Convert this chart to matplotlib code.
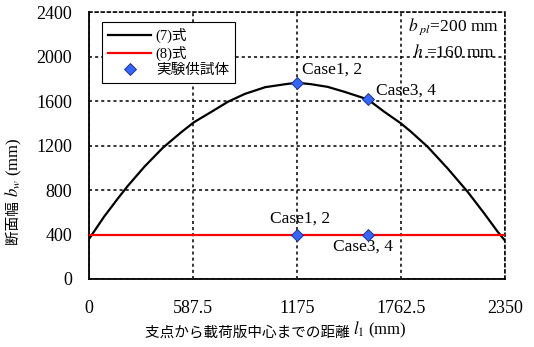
import matplotlib
matplotlib.use("Agg")
import matplotlib.pyplot as plt

plt.rcParams["font.family"] = ["Liberation Serif", "Noto Sans CJK JP", "DejaVu Sans"]
plt.rcParams["mathtext.fontset"] = "stix"

# (7)式 curve
eq7_x = [0, 85, 161, 218, 313, 417, 521, 593, 692, 786, 881, 995, 1109, 1175,
         1254, 1348, 1442, 1575, 1668, 1762.5, 1819, 1913, 2026, 2139, 2233, 2309, 2350]
eq7_y = [360, 560, 720, 835, 1010, 1180, 1320, 1410, 1504, 1595, 1665, 1725, 1752, 1765,
         1752, 1728, 1684, 1615, 1504, 1399, 1324, 1189, 994, 784, 589, 424, 345]

# (8)式 constant line
eq8_x = [0, 2350]
eq8_y = [400, 400]

# 実験供試体
spec_x = [1175, 1575, 1175, 1575]
spec_y = [1765, 1615, 400, 400]
spec_labels = ["Case1, 2", "Case3, 4", "Case1, 2", "Case3, 4"]

xticks = [0, 587.5, 1175, 1762.5, 2350]
xtick_labels = ["0", "587.5", "1175", "1762.5", "2350"]
yticks = [0, 400, 800, 1200, 1600, 2000, 2400]

fig = plt.figure(figsize=(5.34, 3.47), dpi=100)
ax = fig.add_axes([0.1667, 0.196, 0.779, 0.769])

ax.plot(eq7_x, eq7_y, color="black", lw=1.6, label="(7)式", zorder=3)
ax.plot(eq8_x, eq8_y, color="#ff0000", lw=1.6, label="(8)式", zorder=4)
ax.plot(spec_x, spec_y, ls="none", marker="D", ms=6.5, mfc="#3366ff", mec="#1a237e",
        mew=0.6, label="実験供試体", zorder=5, clip_on=False)

ax.set_xlim(0, 2350)
ax.set_ylim(0, 2400)
ax.set_xticks(xticks)
ax.set_xticklabels(xtick_labels)
ax.set_yticks(yticks)
ax.tick_params(length=0, labelsize=13)
ax.tick_params(axis="x", pad=15)
ax.tick_params(axis="y", pad=12)

ax.grid(True, color="black", ls=(0, (2, 2)), lw=1.1)
for side in ["left", "bottom"]:
    ax.spines[side].set_linewidth(1.3)
for side in ["top", "right"]:
    ax.spines[side].set_linestyle((0, (2, 2)))
    ax.spines[side].set_linewidth(1.1)

# axis labels: CJK part and math part drawn as chained texts
xl = fig.text(145 / 534, 0.040, "支点から載荷版中心までの距離 ", fontsize=10.5,
              ha="left", va="center")
ax.annotate(r"$l_1$ (mm)", xy=(1, 0), xycoords=xl, ha="left", va="bottom", fontsize=12)
yl = fig.text(14 / 534, 0.294, "断面幅 ", fontsize=10.5, rotation=90,
              ha="center", va="bottom")
ax.annotate(r"$b_w$ (mm)", xy=(0.5, 1), xycoords=yl, ha="center", va="bottom",
            rotation=90, fontsize=12)

# case labels
ax.text(1203, 1879, spec_labels[0], fontsize=12.5, va="center")
ax.text(1624, 1690, spec_labels[1], fontsize=12.5, va="center")
ax.text(1023, 539, spec_labels[2], fontsize=12.5, va="center")
ax.text(1378, 290, spec_labels[3], fontsize=12.5, va="center")

ax.text(1800, 2265, r"$b_{\ pl}$=200 mm", fontsize=12.5, va="center")
ax.text(1833, 2040, r"$h$ =160 mm", fontsize=12.5, va="center")

leg = ax.legend(loc="upper left", bbox_to_anchor=(0.031, 0.963), fontsize=10.5,
                frameon=True, fancybox=False, edgecolor="black", framealpha=1,
                borderaxespad=0, handlelength=3, labelspacing=0.2,
                borderpad=0.4, handletextpad=0.3)
leg.get_frame().set_linewidth(0.8)

fig.savefig("out.png", dpi=100)
